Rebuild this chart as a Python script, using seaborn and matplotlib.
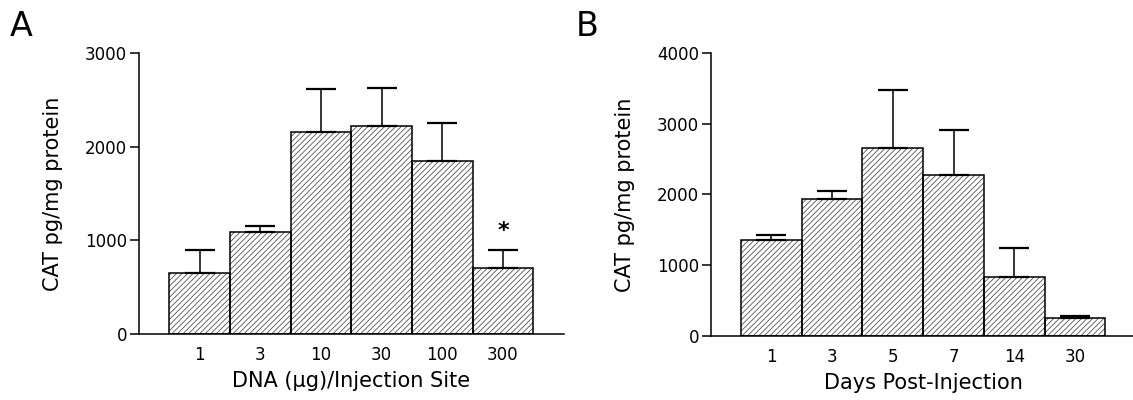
import numpy as np
import pandas as pd
import matplotlib
matplotlib.use("Agg")
import matplotlib.pyplot as plt
import seaborn as sns

# panel A: dose response
dose_labels = ["1", "3", "10", "30", "100", "300"]
dose_mean = [647, 1091, 2160, 2221, 1842, 707]
dose_err = [248, 62, 450, 404, 408, 188]

# panel B: time course
day_labels = ["1", "3", "5", "7", "14", "30"]
day_mean = [1351, 1941, 2654, 2272, 831, 255]
day_err = [75, 104, 830, 642, 416, 20]

sns.set_style("ticks")
plt.rcParams["font.family"] = ["DejaVu Sans"]
plt.rcParams["hatch.linewidth"] = 0.55
for key in ["text.color", "axes.labelcolor", "xtick.color", "ytick.color",
            "axes.edgecolor"]:
    plt.rcParams[key] = "black"

fig = plt.figure(figsize=(11.33, 4.0), dpi=100)
axA = fig.add_axes([0.1227, 0.165, 0.3747, 0.703])
axB = fig.add_axes([0.6273, 0.161, 0.375, 0.706])


def draw_panel(ax, labels, mean, err, ymax, xlabel):
    df = pd.DataFrame({"x": labels, "y": mean})
    sns.barplot(data=df, x="x", y="y", ax=ax, width=1.0, color="white",
                edgecolor="#444444", linewidth=0, hatch="//////",
                saturation=1, errorbar=None)
    # solid outline drawn on top of the grey hatching
    for bar in ax.patches:
        ax.add_patch(plt.Rectangle(bar.get_xy(), bar.get_width(),
                                   bar.get_height(), fill=False,
                                   edgecolor="black", linewidth=1.1,
                                   zorder=3))
    pos = np.arange(len(labels))
    ax.errorbar(pos, mean, yerr=[np.zeros(len(err)), err], fmt="none",
                ecolor="black", elinewidth=1.1, capsize=10.5, capthick=1.6,
                zorder=1)
    ax.set_xlim(-1.0, 6.0)
    ax.set_ylim(0, ymax)
    ax.set_yticks(np.arange(0, ymax + 1, 1000))
    ax.set_ylabel("CAT pg/mg protein", fontsize=15, labelpad=16)
    ax.set_xlabel(xlabel, fontsize=15, labelpad=5)
    ax.tick_params(axis="y", length=6.5, width=1.1, labelsize=12, pad=2)
    ax.tick_params(axis="x", length=0, labelsize=12, pad=9)
    for s in ["top", "right"]:
        ax.spines[s].set_visible(False)
    for s in ["left", "bottom"]:
        ax.spines[s].set_linewidth(1.1)


draw_panel(axA, dose_labels, dose_mean, dose_err, 3000,
           "DNA (\u03bcg)/Injection Site")
draw_panel(axB, day_labels, day_mean, day_err, 4000, "Days Post-Injection")

# significance mark on the 300 ug bar
axA.text(5, 1100, "*", ha="center", va="center", fontsize=16,
         fontweight="bold")

fig.text(0.009, 0.975, "A", fontsize=24, va="top", ha="left")
fig.text(0.508, 0.975, "B", fontsize=24, va="top", ha="left")

fig.savefig("out.png", dpi=100)
